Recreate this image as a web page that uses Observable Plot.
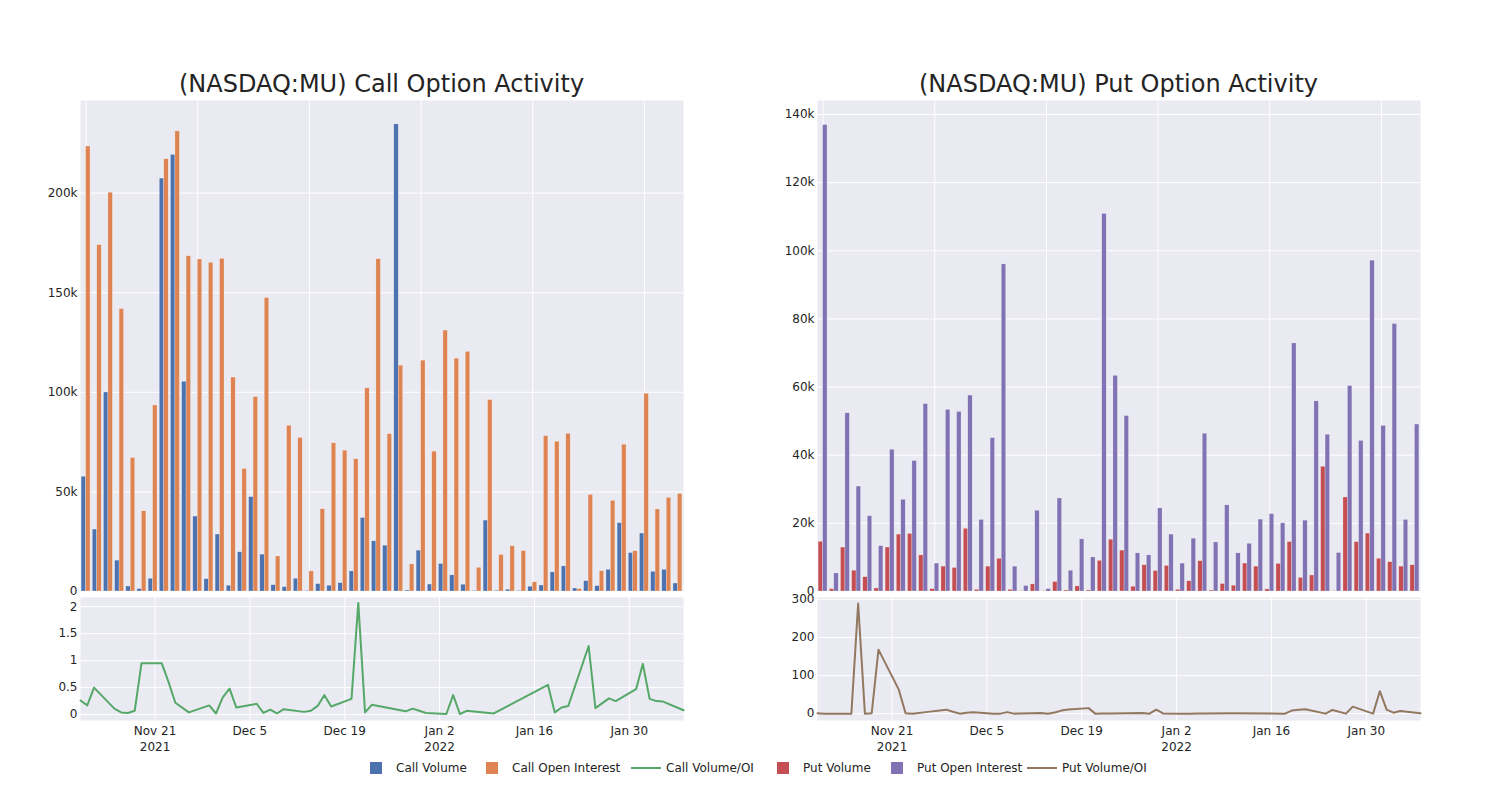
<!DOCTYPE html>
<html>
<head>
<meta charset="utf-8">
<script src="https://cdn.jsdelivr.net/npm/d3@7"></script>
<script src="https://cdn.jsdelivr.net/npm/@observablehq/plot@0.6"></script>
<style>
  html, body { margin: 0; padding: 0; background: #ffffff; }
  body { font-family: "DejaVu Sans", sans-serif; color: #242424; }
  #root { position: relative; width: 1500px; height: 800px; overflow: hidden; }
  .panel { position: absolute; }
  .title { position: absolute; top: 71px; height: 26px; line-height: 26px; font-size: 24px; text-align: center; white-space: nowrap; color: #242424; }
  .legend-item { position: absolute; top: 760px; height: 16px; font-size: 12px; line-height: 16px; white-space: nowrap; color: #242424; }
  .sym-square { position: absolute; top: 2px; width: 12px; height: 12px; }
  .sym-line { position: absolute; top: 7px; width: 30px; height: 2px; }
  .legend-text { position: absolute; left: 40px; top: 0; }
</style>
</head>
<body>
<div id="root"></div>
<script>
// ---------------- data ----------------
const dates = [
  "2021-11-10","2021-11-11","2021-11-12","2021-11-15","2021-11-16","2021-11-17","2021-11-18","2021-11-19",
  "2021-11-22","2021-11-23","2021-11-24","2021-11-26","2021-11-29","2021-11-30","2021-12-01","2021-12-02",
  "2021-12-03","2021-12-06","2021-12-07","2021-12-08","2021-12-09","2021-12-10","2021-12-13","2021-12-14",
  "2021-12-15","2021-12-16","2021-12-17","2021-12-20","2021-12-21","2021-12-22","2021-12-23","2021-12-28",
  "2021-12-29","2021-12-30","2021-12-31","2022-01-03","2022-01-04","2022-01-05","2022-01-06","2022-01-10",
  "2022-01-18","2022-01-19","2022-01-20","2022-01-21","2022-01-24","2022-01-25","2022-01-27","2022-01-28",
  "2022-01-31","2022-02-01","2022-02-02","2022-02-03","2022-02-04","2022-02-07"
];

const callVolume = [
  57600, 31100, 99900, 15500, 2500, 1200, 6400, 207300,
  219200, 105300, 37600, 6200, 28600, 2900, 19700, 47400,
  18500, 3200, 2200, 6400, 300, 3700, 2900, 4200,
  10100, 36900, 25200, 23000, 234500, 500, 20500, 3500,
  13800, 8100, 3400, 300, 35600, 400, 900, 300,
  2400, 3000, 9600, 12600, 1500, 5200, 2700, 10900,
  34300, 19300, 29100, 9900, 10900, 4000
];
const callOpenInterest = [
  223400, 173900, 200200, 141800, 67000, 40300, 93400, 217000,
  231000, 168300, 166700, 165000, 167000, 107400, 61500, 97600,
  147300, 17600, 83200, 77100, 10100, 41300, 74400, 70700,
  66400, 102000, 166800, 79000, 113400, 13600, 115900, 70200,
  131000, 116900, 120300, 11900, 96100, 18300, 22700, 20300,
  4600, 78000, 75200, 79100, 1200, 48500, 10200, 45500,
  73700, 20200, 99300, 41200, 47000, 49000
];
const callVolumeOI = [
  0.26, 0.17, 0.50, 0.11, 0.04, 0.03, 0.07, 0.95,
  0.95, 0.60, 0.22, 0.04, 0.17, 0.02, 0.32, 0.48,
  0.13, 0.20, 0.03, 0.09, 0.02, 0.10, 0.05, 0.07,
  0.16, 0.36, 0.15, 0.29, 2.07, 0.04, 0.18, 0.06,
  0.11, 0.07, 0.03, 0.01, 0.36, 0.01, 0.07, 0.02,
  0.55, 0.04, 0.13, 0.16, 1.27, 0.12, 0.30, 0.25,
  0.47, 0.94, 0.29, 0.25, 0.24, 0.08
];

const putVolume = [
  14600, 700, 12900, 6100, 4200, 900, 12900, 16700,
  16900, 10600, 700, 7300, 6900, 18400, 500, 7300,
  9600, 500, 100, 2100, 100, 2800, 300, 1500,
  300, 9000, 15200, 12000, 1400, 7700, 6000, 7500,
  500, 3000, 8900, 300, 2200, 1700, 8200, 7300,
  600, 8100, 14500, 4000, 4700, 36600, 100, 27600,
  14500, 17000, 9600, 8600, 7300, 7700
];
const putOpenInterest = [
  136900, 5300, 52300, 30800, 22100, 13300, 41600, 26900,
  38300, 55000, 8200, 53300, 52700, 57500, 21000, 45000,
  96000, 7300, 1600, 23700, 700, 27300, 6100, 15300,
  10000, 110800, 63300, 51500, 11200, 10600, 24400, 16700,
  8200, 15500, 46300, 14400, 25300, 11200, 14000, 21100,
  22700, 20000, 72800, 20800, 55800, 46000, 11300, 60300,
  44200, 97100, 48600, 78500, 21000, 49000
];
const putVolumeOI = [
  1, 0, 0, 0, 289, 0, 1, 168,
  63, 1, 0, 4, 10.5, 5, 0, 2.6,
  3.5, 0, 0, 4, 0, 0.5, 2, 0,
  3, 8, 11, 14.5, 0, 0.5, 0.5, 1.5,
  0, 10.5, 0.5, 0, 0, 0.5, 0.5, 1,
  0, 8, 10, 11.5, 0, 9.6, 0, 18.4,
  0, 59, 10.5, 2.6, 7, 1
];

const dateTicks = ["2021-11-21","2021-12-05","2021-12-19","2022-01-02","2022-01-16","2022-01-30"];
const dateTickLabels = ["Nov 21\n2021","Dec 5","Dec 19","Jan 2\n2022","Jan 16","Jan 30"];
const callBarTicks = [0, 50000, 100000, 150000, 200000];
const putBarTicks = [0, 20000, 40000, 60000, 80000, 100000, 120000, 140000];
const callRatioTicks = [0, 0.5, 1, 1.5, 2];
const putRatioTicks = [0, 100, 200, 300];
const titles = ["(NASDAQ:MU) Call Option Activity", "(NASDAQ:MU) Put Option Activity"];
const seriesNames = ["Call Volume", "Call Open Interest", "Call Volume/OI", "Put Volume", "Put Open Interest", "Put Volume/OI"];
const seriesColors = ["#4C72B0", "#DD8452", "#55A868", "#C44E52", "#8172B3", "#937860"];

// ---------------- table ----------------
const rows = dates.map((d, i) => ({
  key: d,
  date: new Date(d),
  cv: callVolume[i], co: callOpenInterest[i], cr: callVolumeOI[i],
  pv: putVolume[i], po: putOpenInterest[i], pr: putVolumeOI[i]
}));

// ---------------- layout ----------------
const BG = "#EAEAF2";
const FONT = "DejaVu Sans, sans-serif";
const PANEL_W = 700, ML = 80, MR = 17;
const frameW = PANEL_W - ML - MR;
const bw = frameW / dates.length;
const gridKeys = dates.filter((d, i) => i % 10 === 0);
const kfmt = d => d === 0 ? "0" : (d / 1000) + "k";
const tickLabelMap = new Map(dateTicks.map((d, i) => [+new Date(d), dateTickLabels[i]]));
const tickDates = dateTicks.map(d => new Date(d));
const baseStyle = { fontFamily: FONT, fontSize: "12px", color: "#242424", background: "transparent", overflow: "visible" };

const root = document.getElementById("root");
function place(el, left, top) {
  const w = document.createElement("div");
  w.className = "panel";
  w.style.left = left + "px";
  w.style.top = top + "px";
  w.appendChild(el);
  root.appendChild(w);
}

function barPanel(vKey, oKey, vColor, oColor, yMax, yTicks) {
  return Plot.plot({
    width: PANEL_W, height: 491,
    marginLeft: ML, marginRight: MR, marginTop: 0, marginBottom: 0,
    style: baseStyle,
    x: { type: "band", domain: dates, padding: 0, round: false, axis: null },
    y: { domain: [0, yMax] },
    marks: [
      Plot.frame({ fill: BG, stroke: null }),
      Plot.gridX({ ticks: gridKeys, stroke: "white", strokeOpacity: 1, strokeWidth: 1 }),
      Plot.gridY({ ticks: yTicks, stroke: "white", strokeOpacity: 1, strokeWidth: 1 }),
      Plot.axisY({ ticks: yTicks, tickFormat: kfmt, tickSize: 0, tickPadding: 3, label: null, fontSize: 12 }),
      Plot.barY(rows, { x: "key", y: vKey, fill: vColor, insetLeft: bw * 0.1, insetRight: bw * 0.5,
                        stroke: "white", strokeOpacity: 0.5, strokeWidth: 0.5 }),
      Plot.barY(rows, { x: "key", y: oKey, fill: oColor, insetLeft: bw * 0.5, insetRight: bw * 0.1,
                        stroke: "white", strokeOpacity: 0.5, strokeWidth: 0.5 })
    ]
  });
}

function linePanel(key, color, yDomain, yTicks) {
  return Plot.plot({
    width: PANEL_W, height: 163,
    marginLeft: ML, marginRight: MR, marginTop: 0, marginBottom: 40,
    style: baseStyle,
    x: { type: "utc", domain: [rows[0].date, rows[rows.length - 1].date] },
    y: { domain: yDomain },
    marks: [
      Plot.frame({ fill: BG, stroke: null }),
      Plot.gridX({ ticks: tickDates, stroke: "white", strokeOpacity: 1, strokeWidth: 1 }),
      Plot.gridY({ ticks: yTicks, stroke: "white", strokeOpacity: 1, strokeWidth: 1 }),
      Plot.axisX({ ticks: tickDates, tickFormat: d => tickLabelMap.get(+d), tickSize: 0, tickPadding: 3,
                   label: null, lineHeight: 1.35, fontSize: 12 }),
      Plot.axisY({ ticks: yTicks, tickFormat: d => String(d), tickSize: 0, tickPadding: 3, label: null, fontSize: 12 }),
      Plot.line(rows, { x: "date", y: key, stroke: color, strokeWidth: 2 })
    ]
  });
}

place(barPanel("cv", "co", seriesColors[0], seriesColors[1], 246500, callBarTicks), 0, 100);
place(linePanel("cr", seriesColors[2], [-0.11, 2.17], callRatioTicks), 0, 597);
place(barPanel("pv", "po", seriesColors[3], seriesColors[4], 144100, putBarTicks), 737, 100);
place(linePanel("pr", seriesColors[5], [-18, 305], putRatioTicks), 737, 597);

// titles
[[titles[0], ML], [titles[1], 737 + ML]].forEach(([t, left]) => {
  const d = document.createElement("div");
  d.className = "title";
  d.style.left = left + "px";
  d.style.width = frameW + "px";
  d.textContent = t;
  root.appendChild(d);
});

// legend
const legendStarts = [356, 472, 626, 763, 877, 1022];
const legendKinds = ["square", "square", "line", "square", "square", "line"];
seriesNames.forEach((name, i) => {
  const item = document.createElement("div");
  item.className = "legend-item";
  item.style.left = legendStarts[i] + "px";
  const sym = document.createElement("div");
  if (legendKinds[i] === "square") {
    sym.className = "sym-square";
    sym.style.left = "14px";
  } else {
    sym.className = "sym-line";
    sym.style.left = "5px";
  }
  sym.style.background = seriesColors[i];
  const txt = document.createElement("span");
  txt.className = "legend-text";
  txt.textContent = name;
  item.appendChild(sym);
  item.appendChild(txt);
  root.appendChild(item);
});
</script>
</body>
</html>
